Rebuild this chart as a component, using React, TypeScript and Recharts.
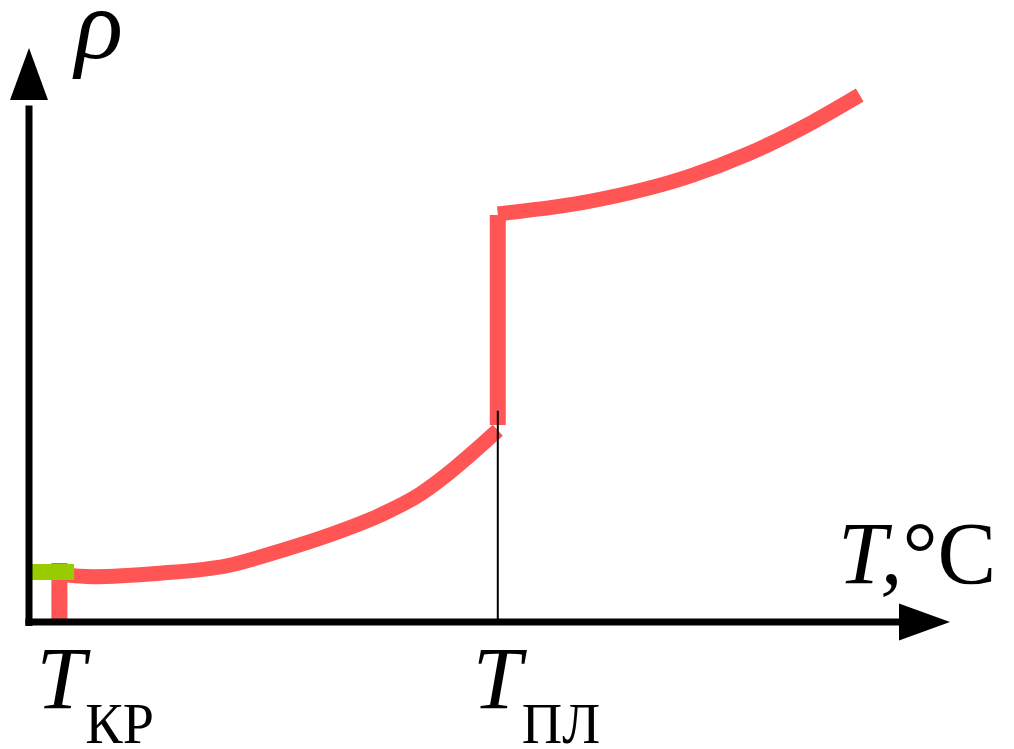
import React from 'react';
import {
  ComposedChart,
  Line,
  XAxis,
  YAxis,
  ReferenceLine,
  ReferenceDot
} from 'recharts';

// temperature (arbitrary units) and resistivity values
const lowT = [3.3, 7.0, 14.2, 21.5, 27.3, 32.7, 38.1, 42.5, 45.7, 48.4, 50.9];
const lowRho = [8.3, 7.9, 8.5, 9.8, 12.4, 15.2, 18.6, 22.3, 26.1, 29.8, 33.4];
const jumpT = [50.9, 50.9];
const jumpRho = [34.3, 70.9];
const highT = [50.9, 60.9, 71.8, 78.0, 85.1, 90.2];
const highRho = [71.1, 73.3, 77.7, 81.5, 87.1, 91.8];
const krT = [3.3, 3.3];
const krRho = [0, 10.3];
const markerT = [0, 4.9];
const markerRho = [8.7, 8.7];

const T_KR = 3.3;
const T_PL = 50.9;
const AXIS_MAX = 100;

const toRows = (ts: number[], rs: number[]) => ts.map((t, i) => ({ t, rho: rs[i] }));

const RED = '#ff5555';
const FONT = '"Liberation Serif", "Times New Roman", serif';

const YArrow = ({ cx, cy }: any) => (
  <polygon points={`${cx},${cy} ${cx - 19},${cy + 52} ${cx + 19},${cy + 52}`} fill="#000" />
);

const XArrow = ({ cx, cy }: any) => (
  <polygon points={`${cx},${cy} ${cx - 51},${cy - 18.5} ${cx - 51},${cy + 18.5}`} fill="#000" />
);

const RhoLabel = ({ cx, cy }: any) => (
  <text x={cx + 46} y={cy + 10} fontFamily={FONT} fontSize={100} fontStyle="italic" fill="#000">
    ρ
  </text>
);

const TLabel = ({ cx, cy }: any) => (
  <text x={cx - 112} y={cy - 39} fontFamily={FONT} fontSize={88} fill="#000">
    <tspan fontStyle="italic">T,</tspan>
    <tspan>°C</tspan>
  </text>
);

const subLabel = (sub: string, dx: number) => ({ cx, cy }: any) => (
  <text x={cx + dx} y={cy + 86} fontFamily={FONT} fontSize={88} fill="#000">
    <tspan fontStyle="italic">T</tspan>
    <tspan fontSize={56} dy={35}>{sub}</tspan>
  </text>
);

const lineProps = { dataKey: 'rho', dot: false, activeDot: false, isAnimationActive: false };

export default function App() {
  return (
    <div style={{ position: 'absolute', left: 0, top: 0, width: 1014, height: 749, background: '#fff' }}>
      <ComposedChart width={1014} height={749} margin={{ top: 48, right: 64, left: 29, bottom: 127 }}>
        <XAxis type="number" dataKey="t" domain={[0, AXIS_MAX]} hide />
        <YAxis type="number" dataKey="rho" domain={[0, AXIS_MAX]} hide />

        <Line {...lineProps} data={toRows(krT, krRho)} type="linear" stroke={RED} strokeWidth={16} />
        <Line {...lineProps} data={toRows(lowT, lowRho)} type="monotone" stroke={RED} strokeWidth={15} />
        <Line {...lineProps} data={toRows(jumpT, jumpRho)} type="linear" stroke={RED} strokeWidth={16} />
        <Line {...lineProps} data={toRows(highT, highRho)} type="monotone" stroke={RED} strokeWidth={15} />
        {/* green marker at T_kr */}
        <Line {...lineProps} data={toRows(markerT, markerRho)} type="linear" stroke="#99cc00" strokeWidth={16} />

        <ReferenceLine segment={[{ x: T_PL, y: 0 }, { x: T_PL, y: 36.8 }]} stroke="#000" strokeWidth={2}
          ifOverflow="visible" />

        {/* axes */}
        <ReferenceLine segment={[{ x: 0, y: -0.7 }, { x: 0, y: 90 }]} stroke="#000" strokeWidth={7}
          ifOverflow="visible" />
        <ReferenceLine segment={[{ x: -0.4, y: 0 }, { x: 95, y: 0 }]} stroke="#000" strokeWidth={7}
          ifOverflow="visible" />
        <ReferenceDot x={0} y={AXIS_MAX} r={1} ifOverflow="visible" shape={YArrow} />
        <ReferenceDot x={AXIS_MAX} y={0} r={1} ifOverflow="visible" shape={XArrow} />

        {/* labels */}
        <ReferenceDot x={0} y={AXIS_MAX} r={1} ifOverflow="visible" shape={RhoLabel} />
        <ReferenceDot x={AXIS_MAX} y={0} r={1} ifOverflow="visible" shape={TLabel} />
        <ReferenceDot x={T_KR} y={0} r={1} ifOverflow="visible" shape={subLabel('КР', -23)} />
        <ReferenceDot x={T_PL} y={0} r={1} ifOverflow="visible" shape={subLabel('ПЛ', -25)} />
      </ComposedChart>
    </div>
  );
}
